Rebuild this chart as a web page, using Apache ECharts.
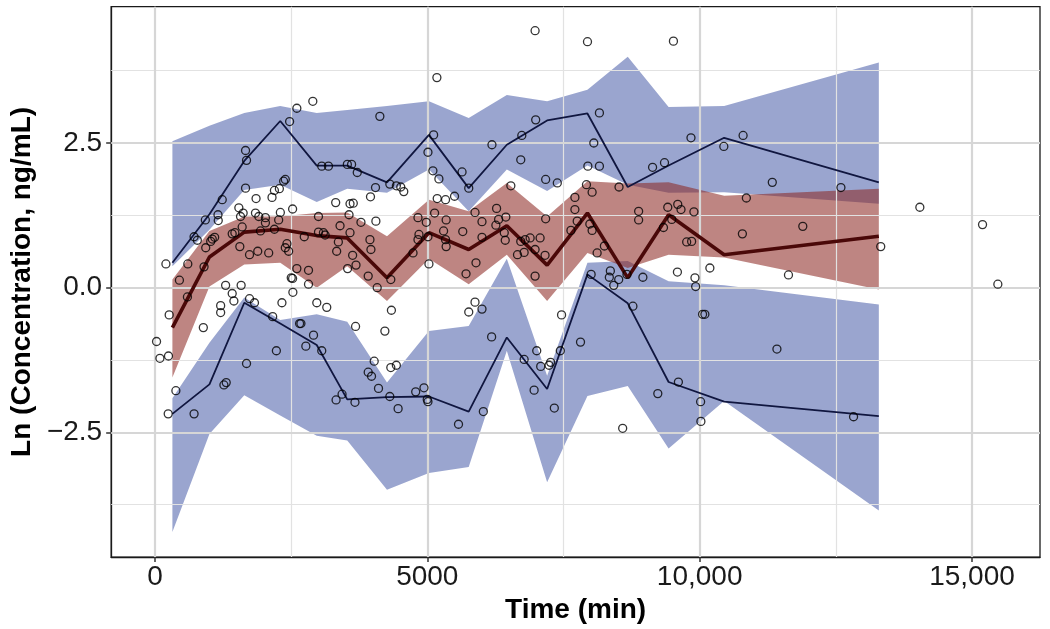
<!DOCTYPE html>
<html>
<head>
<meta charset="utf-8">
<script src="https://cdn.jsdelivr.net/npm/echarts@6/dist/echarts.min.js"></script>
<style>
html,body{margin:0;padding:0;background:#fff;}
#chart{width:1050px;height:629px;}
</style>
</head>
<body>
<div id="chart"></div>
<script>
// ---- Data ----
const bins = [320, 1000, 1640, 2300, 2970, 3530, 4260, 5030, 5760, 6460, 7200, 7940, 8680, 9430, 10450, 13290];
const obsMedian = [-0.69, 0.53, 0.96, 1.01, 0.90, 0.86, 0.17, 0.95, 0.66, 1.07, 0.39, 1.29, 0.17, 1.26, 0.57, 0.89];
const obsP95 = [0.43, 1.27, 2.19, 2.88, 2.11, 2.11, 1.82, 2.64, 1.72, 2.47, 2.89, 3.01, 1.74, 2.11, 2.59, 1.82];
const obsP5 = [-2.18, -1.67, -0.26, -0.62, -0.99, -1.93, -1.89, -1.88, -2.14, -0.86, -1.75, 0.23, -0.27, -1.63, -1.97, -2.22];
const p95Hi = [2.53, 2.80, 3.02, 3.14, 3.02, 3.07, 3.14, 3.22, 2.93, 3.33, 3.22, 3.42, 3.99, 3.12, 3.14, 3.89];
const p95Lo = [0.37, 1.00, 1.69, 1.78, 1.48, 1.71, 1.64, 2.04, 1.32, 2.04, 1.67, 2.11, 1.78, 1.64, 1.65, 1.45];
const medHi = [0.14, 0.98, 1.23, 1.23, 1.29, 1.30, 0.89, 1.52, 1.32, 1.81, 1.23, 1.84, 1.80, 1.82, 1.59, 1.71];
const medLo = [-1.55, 0.02, 0.40, 0.43, 0.00, 0.37, -0.23, 0.50, 0.06, 0.57, -0.23, 0.60, 0.34, 0.57, 0.52, -0.03];
const p5Hi = [-1.91, -0.95, -0.17, -0.56, -0.46, -0.59, -1.64, -0.75, -0.66, 0.50, -1.52, 0.43, 0.46, 0.11, 0.04, -0.29];
const p5Lo = [-4.22, -2.53, -1.86, -2.21, -2.56, -2.64, -3.49, -3.20, -3.10, -1.09, -3.36, -1.87, -1.70, -2.78, -1.96, -3.85];

const obsTime = [5176,2898,2605,4129,2472,5116,1663,5012,1681,3062,3185,3532,3610,3714,5103,5213,2362,2393,2284,2193,
2149,1663,4049,4312,4432,4513,4568,1856,3957,5182,5335,3318,3581,3641,2527,1235,1540,1619,1571,1845,
1906,2028,2302,1157,1162,3002,2271,1418,1467,1601,1937,925,718,778,1052,1096,1023,932,1558,1736,
1887,2088,2393,2423,2454,2605,2819,3002,3093,3124,3398,3367,3537,3629,3691,3782,3947,3965,3915,4056,
4080,4330,4829,4981,5134,5346,4847,4829,5012,5299,5346,4738,5030,201,449,603,596,901,1297,1418,
1582,2527,2502,2532,2819,1736,2741,2028,2193,3336,3563,3581,1449,1206,1206,1827,2331,2971,3154,261,
29,91,248,888,4341,4221,3683,2655,2680,2161,2911,2770,3062,2229,1681,4025,4330,4432,3915,3976,
4104,3435,3325,3672,4312,4464,4787,4939,4999,5012,1266,1308,384,243,718,6979,7941,9519,8160,6990,
9841,10798,10444,8057,6187,6735,6716,5638,5761,7948,8160,9136,9355,7173,7387,11334,6534,5500,10858,8520,
7922,8026,7710,5876,6272,7710,6004,6309,6442,6259,7173,7752,7984,8026,8880,8880,9415,9598,9658,9895,
9336,9488,10785,9762,9853,5335,5651,6004,6413,6431,6716,6797,6888,7071,6778,6979,6656,7162,7637,8118,
8251,5894,5711,6979,8008,8361,8342,8514,8423,8666,8958,9592,9914,9927,10188,11631,5761,5876,6004,6181,
7465,6778,7009,7082,7235,7264,7442,6961,7332,7813,6029,5573,8587,8775,10054,10096,9610,9232,10018,10023,
11419,12594,14043,11894,13325,15194,15475,12826];
const obsConc = [3.63,3.22,3.10,2.96,2.87,2.64,2.37,2.34,2.20,2.10,2.10,2.13,2.13,1.99,2.02,1.88,1.84,1.87,1.71,1.68,
1.56,1.72,1.73,1.79,1.76,1.74,1.66,1.54,1.57,1.54,1.52,1.47,1.45,1.46,1.36,1.52,1.38,1.29,1.23,1.29,
1.23,1.21,1.30,1.26,1.16,1.23,1.17,0.93,0.95,1.05,0.98,1.17,0.88,0.82,0.84,0.87,0.80,0.69,0.71,0.57,
0.63,0.60,0.69,0.76,0.63,0.33,0.30,0.96,0.95,0.91,1.07,0.79,0.33,0.56,0.39,1.13,0.83,0.66,0.20,1.15,
0.00,0.14,1.21,1.13,1.29,1.17,0.92,0.83,0.88,0.98,0.71,0.60,0.41,0.41,0.13,0.41,-0.16,0.36,0.04,-0.10,
0.04,0.16,0.17,-0.08,0.06,-0.19,0.88,1.12,1.01,0.63,1.26,0.95,-0.23,-0.31,-0.43,-0.26,-0.26,-0.26,-0.34,-0.47,
-0.93,-1.22,-1.18,-0.69,-0.39,-0.75,-0.67,-0.62,-0.62,-0.50,-0.82,-1.01,-1.09,-1.09,-1.31,-1.27,-1.38,-1.34,-1.46,-1.53,
-1.74,-1.84,-1.94,-1.98,-1.88,-2.09,-1.80,-1.73,-1.93,-1.97,-1.68,-1.64,-1.78,-2.18,-2.18,4.44,4.25,4.26,3.02,2.90,
2.59,2.63,2.44,2.50,2.47,2.63,2.21,2.00,1.72,2.10,2.10,2.08,2.16,1.87,1.81,1.82,1.76,1.58,1.55,1.74,
1.78,1.65,1.56,1.30,1.37,1.35,1.14,1.18,1.22,1.08,1.19,1.15,1.10,0.99,1.32,1.17,1.39,1.44,1.35,1.31,
1.04,1.18,0.93,0.79,0.80,0.83,0.97,0.87,0.95,0.82,0.80,0.83,0.86,0.86,0.61,0.66,0.57,0.56,0.99,0.60,
0.72,0.43,0.24,0.20,0.23,0.29,0.18,0.14,0.04,0.23,0.18,0.27,0.17,0.02,0.34,0.22,-0.42,-0.25,-0.37,-0.85,
-0.47,-1.24,-1.09,-1.36,-1.34,-1.29,-1.09,-1.77,-2.08,-0.94,-2.14,-2.36,-2.43,-0.32,-0.46,-0.46,-1.63,-1.83,-1.97,-2.31,
-1.06,1.73,1.39,1.06,0.71,1.09,0.06,-2.23];

const xMajor = [0, 5000, 10000, 15000];
const xMinor = [2500, 7500, 12500];
const yMajor = [-2.5, 0, 2.5];
const yMinor = [-3.75, -1.25, 1.25, 3.75];
const xTickLabels = ['0', '5000', '10,000', '15,000'];
const yTickLabels = ['\u22122.5', '0.0', '2.5'];

// ---- Chart ----
const FONT = 'Liberation Sans, Arial, Helvetica, sans-serif';
const chart = echarts.init(document.getElementById('chart'), null, {renderer: 'canvas'});

function band(name, lo, hi, fill, z) {
  return {
    type: 'custom', name: name, coordinateSystem: 'cartesian2d', z: z, clip: true, silent: true,
    data: [[bins[0], lo[0]]],
    renderItem: function (params, api) {
      const pts = [];
      for (let i = 0; i < bins.length; i++) pts.push(api.coord([bins[i], hi[i]]));
      for (let i = bins.length - 1; i >= 0; i--) pts.push(api.coord([bins[i], lo[i]]));
      return {type: 'polygon', shape: {points: pts}, style: {fill: fill}};
    }
  };
}
function line(name, ys, color, width, z) {
  return {
    type: 'line', name: name, z: z, showSymbol: false, symbol: 'none', silent: true,
    data: bins.map((x, i) => [x, ys[i]]),
    lineStyle: {color: color, width: width}
  };
}

const gridMarks = [].concat(
  xMinor.map(v => ({xAxis: v, lineStyle: {color: '#e2e2e2', width: 1.2, type: 'solid'}})),
  yMinor.map(v => ({yAxis: v, lineStyle: {color: '#e2e2e2', width: 1.2, type: 'solid'}})),
  xMajor.map(v => ({xAxis: v, lineStyle: {color: '#d6d6d6', width: 2.2, type: 'solid'}})),
  yMajor.map(v => ({yAxis: v, lineStyle: {color: '#d6d6d6', width: 2.2, type: 'solid'}}))
);

const BLUE = 'rgba(53,75,160,0.5)';
const RED = 'rgba(140,40,35,0.57)';

chart.setOption({
  animation: false,
  backgroundColor: '#fff',
  grid: {left: 106.7, right: 10, top: 6.7, bottom: 70.7, show: true, borderColor: '#1a1a1a', borderWidth: 1.3, containLabel: false},
  xAxis: {
    type: 'value', min: -804, max: 16249,
    name: 'Time (min)', nameLocation: 'middle', nameGap: 32,
    nameTextStyle: {fontFamily: FONT, fontSize: 28, fontWeight: 'bold', color: '#000'},
    splitLine: {show: false},
    axisLine: {show: true, onZero: false, lineStyle: {color: '#1a1a1a', width: 1.3}},
    axisTick: {show: true, customValues: xMajor, length: 5, lineStyle: {color: '#333', width: 1.5}},
    axisLabel: {customValues: xMajor, margin: 6, fontFamily: FONT, fontSize: 28, color: '#1a1a1a',
      formatter: v => xTickLabels[xMajor.indexOf(v)]}
  },
  yAxis: {
    type: 'value', min: -4.655, max: 4.855,
    name: 'Ln (Concentration, ng/mL)', nameLocation: 'middle', nameGap: 70,
    nameTextStyle: {fontFamily: FONT, fontSize: 28, fontWeight: 'bold', color: '#000'},
    splitLine: {show: false},
    axisLine: {show: true, onZero: false, lineStyle: {color: '#1a1a1a', width: 1.3}},
    axisTick: {show: true, customValues: yMajor, length: 5, lineStyle: {color: '#333', width: 1.5}},
    axisLabel: {customValues: yMajor, margin: 9, fontFamily: FONT, fontSize: 28, color: '#1a1a1a',
      formatter: v => yTickLabels[yMajor.indexOf(v)]}
  },
  series: [
    {type: 'line', name: 'grid', data: [], z: 0, silent: true,
     markLine: {silent: true, symbol: ['none', 'none'], label: {show: false}, animation: false, data: gridMarks}},
    band('p95 CI', p95Lo, p95Hi, BLUE, 2),
    band('p5 CI', p5Lo, p5Hi, BLUE, 2),
    band('median CI', medLo, medHi, RED, 3),
    line('obs p95', obsP95, '#10163f', 1.8, 5),
    line('obs p5', obsP5, '#10163f', 1.8, 5),
    line('obs median', obsMedian, '#4a0808', 3.6, 6),
    {type: 'scatter', name: 'observed', z: 8, silent: true, symbol: 'circle', symbolSize: 8,
     data: obsTime.map((t, i) => [t, obsConc[i]]),
     itemStyle: {color: 'rgba(0,0,0,0)', borderColor: '#000', borderWidth: 1.3}}
  ]
});
</script>
</body>
</html>
